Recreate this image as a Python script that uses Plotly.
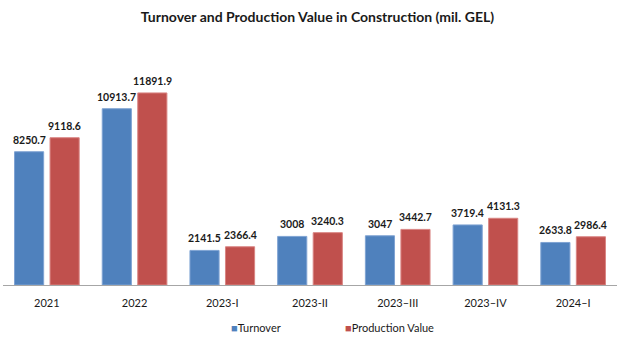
import plotly.graph_objects as go

categories = ["2021", "2022", "2023-I", "2023-II", "2023\u2013III", "2023\u2013IV", "2024\u2013I"]
turnover = [8250.7, 10913.7, 2141.5, 3008, 3047, 3719.4, 2633.8]
production = [9118.6, 11891.9, 2366.4, 3240.3, 3442.7, 4131.3, 2986.4]
turnover_labels = ["8250.7", "10913.7", "2141.5", "3008", "3047", "3719.4", "2633.8"]
production_labels = ["9118.6", "11891.9", "2366.4", "3240.3", "3442.7", "4131.3", "2986.4"]
series_names = ["Turnover", "Production Value"]
series_colors = ["#4F81BD", "#C0504D"]

FONT = "Lato, Carlito, sans-serif"
W, H = 620, 342
ML, MR = 3, 3
BARGAP, BARGROUPGAP = 0.19, 0.18

fig = go.Figure()
fig.add_trace(go.Bar(
    x=categories, y=turnover, name=series_names[0],
    marker=dict(color=series_colors[0], line=dict(color="#7FA3D3", width=1)),
))
fig.add_trace(go.Bar(
    x=categories, y=production, name=series_names[1],
    marker=dict(color=series_colors[1], line=dict(color="#D98583", width=1)),
))

# value labels above each bar (category index + offset to each bar's slot in the group)
slot = (1 - BARGAP) / 4
for vals, labels, sgn in [(turnover, turnover_labels, -1), (production, production_labels, 1)]:
    for i, (v, lab) in enumerate(zip(vals, labels)):
        fig.add_annotation(
            x=i + sgn * slot, y=v, xref="x", yref="y", text=f"<b>{lab}</b>", showarrow=False,
            xanchor="center", yanchor="bottom", yshift=4,
            font=dict(family=FONT, size=10.5, color="#1a1a1a"),
        )

# compact legend (small square + label), like the original
for name, color, xpos in zip(series_names, series_colors, [0.368, 0.554]):
    fig.add_annotation(
        xref="paper", yref="paper", x=xpos, y=-0.18, xanchor="left", yanchor="middle",
        text=f'<span style="color:{color}">\u25A0</span>{name}', showarrow=False,
        font=dict(family=FONT, size=11, color="#1a1a1a"),
    )

fig.update_layout(
    width=W, height=H,
    margin=dict(l=ML, r=MR, t=50, b=57),
    paper_bgcolor="white", plot_bgcolor="white",
    barmode="group", bargap=BARGAP, bargroupgap=BARGROUPGAP,
    showlegend=False,
    title=dict(text="<b>Turnover and Production Value in Construction (mil. GEL)</b>",
               x=0.512, xanchor="center", y=0.95, yanchor="middle",
               font=dict(family=FONT, size=14, color="#1a1a1a")),
    font=dict(family=FONT, size=11, color="#1a1a1a"),
    xaxis=dict(type="category", categoryorder="array", categoryarray=categories,
               range=[-0.5, len(categories) - 0.5],
               showline=True, linecolor="#A6A6A6", linewidth=1, ticks="",
               ticklabelstandoff=8,
               tickfont=dict(family=FONT, size=11, color="#1a1a1a"), fixedrange=True),
    yaxis=dict(range=[0, 14550], visible=False, showgrid=False, fixedrange=True),
)

fig.write_html("out.html")
